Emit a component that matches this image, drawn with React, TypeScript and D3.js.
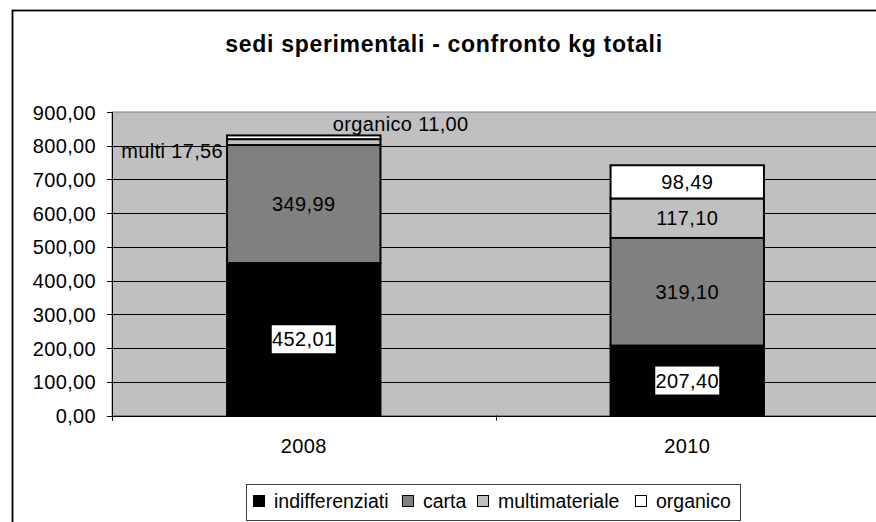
import React from "react";
import * as d3 from "d3";

const years = ["2008", "2010"];
const seriesNames = ["indifferenziati", "carta", "multimateriale", "organico"];
const indifferenziati = [452.01, 207.4];
const carta = [349.99, 319.1];
const multimateriale = [17.56, 117.1];
const organico = [11.0, 98.49];
const seriesColors = ["#000000", "#808080", "#c0c0c0", "#ffffff"];
const yTicks = [0, 100, 200, 300, 400, 500, 600, 700, 800, 900];
const title = "sedi sperimentali - confronto kg totali";

const W = 876;
const H = 522;
const FONT = "'Liberation Sans', Arial, sans-serif";
const fmt = (v: number) => v.toFixed(2).replace(".", ",");

export default function App() {
  const plotL = 112;
  const plotR = 879;
  const plotT = 112;
  const plotB = 415.5;

  const y = d3.scaleLinear().domain([0, 900]).range([plotB, plotT]);
  const x = d3.scaleBand().domain(years).range([plotL, plotR]).paddingInner(0.6).paddingOuter(0.3);

  const rows = years.map((yr, i) => ({
    year: yr,
    indifferenziati: indifferenziati[i],
    carta: carta[i],
    multimateriale: multimateriale[i],
    organico: organico[i],
  }));
  const stack = d3.stack<any>().keys(seriesNames);
  const stacked = stack(rows);

  const bw = x.bandwidth();
  const fs = 20;
  const ls = 0.35;

  const legendX = [253, 402, 477, 635];

  return (
    <svg width={W} height={H} style={{ position: "absolute", left: 0, top: 0, fontFamily: FONT }}>
      <rect x={0} y={0} width={W} height={H} fill="#fff" />
      {/* chart border */}
      <rect x={12.5} y={10.5} width={W + 10} height={H + 10} fill="none" stroke="#000" strokeWidth={1.8} />
      <text x={444} y={52} textAnchor="middle" fontSize={23} fontWeight="bold" letterSpacing={0.7} fill="#000">
        {title}
      </text>
      {/* plot area */}
      <rect x={plotL} y={plotT} width={plotR - plotL} height={plotB - plotT} fill="#c0c0c0" stroke="#808080" strokeWidth={1} />
      {yTicks.filter((t) => t > 0 && t < 900).map((t) => (
        <line key={t} x1={plotL} x2={plotR} y1={Math.round(y(t)) + 0.5} y2={Math.round(y(t)) + 0.5} stroke="#000" strokeWidth={1} />
      ))}
      {/* y axis */}
      <line x1={plotL + 0.5} x2={plotL + 0.5} y1={plotT} y2={plotB + 5} stroke="#000" />
      {yTicks.map((t) => (
        <g key={t}>
          <line x1={plotL - 5} x2={plotL} y1={Math.round(y(t)) + 0.5} y2={Math.round(y(t)) + 0.5} stroke="#000" />
          <text x={96} y={y(t) + 7.5} textAnchor="end" fontSize={fs} letterSpacing={ls} fill="#000">
            {fmt(t)}
          </text>
        </g>
      ))}
      {/* x axis */}
      <line x1={plotL} x2={plotR} y1={Math.round(plotB) + 0.5} y2={Math.round(plotB) + 0.5} stroke="#000" />
      {[0, 1, 2].map((i) => {
        const xx = plotL + (i * (plotR - plotL)) / 2;
        return <line key={i} x1={Math.round(xx) + 0.5} x2={Math.round(xx) + 0.5} y1={plotB} y2={plotB + 5} stroke="#000" />;
      })}
      {years.map((yr) => (
        <text key={yr} x={(x(yr) as number) + bw / 2} y={453} textAnchor="middle" fontSize={fs} letterSpacing={ls} fill="#000">
          {yr}
        </text>
      ))}
      {/* bars */}
      {stacked.map((s, si) =>
        s.map((d, i) => (
          <rect
            key={si + "-" + i}
            x={x(years[i]) as number}
            y={y(d[1])}
            width={bw}
            height={y(d[0]) - y(d[1])}
            fill={seriesColors[si]}
            stroke="#000"
            strokeWidth={2}
          />
        ))
      )}
      {/* labels */}
      {stacked.map((s, si) =>
        s.map((d, i) => {
          const cx = (x(years[i]) as number) + bw / 2;
          const cy = (y(d[0]) + y(d[1])) / 2;
          const v = d[1] - d[0];
          const label = fmt(v);
          if (i === 0 && si === 2) {
            return (
              <text key={"l" + si + i} x={(x(years[i]) as number) - 4} y={y(d[1]) + 19} textAnchor="end" fontSize={fs} letterSpacing={ls} fill="#000">
                {"multi " + label}
              </text>
            );
          }
          if (i === 0 && si === 3) {
            return (
              <text key={"l" + si + i} x={cx + 29} y={y(d[1]) - 4} fontSize={fs} letterSpacing={ls} fill="#000">
                {"organico " + label}
              </text>
            );
          }
          const boxed = si === 0;
          return (
            <g key={"l" + si + i}>
              {boxed && <rect x={cx - 32} y={cy - 14} width={64} height={28} fill="#fff" />}
              <text x={cx} y={cy + 7} textAnchor="middle" fontSize={fs} letterSpacing={ls} fill="#000">
                {label}
              </text>
            </g>
          );
        })
      )}
      {/* legend */}
      <rect x={246.5} y={484.5} width={494} height={36} fill="#fff" stroke="#404040" strokeWidth={1} />
      {seriesNames.map((n, i) => (
        <g key={n}>
          <rect x={legendX[i] + 0.5} y={495.5} width={11} height={11} fill={seriesColors[i]} stroke="#000" strokeWidth={1} />
          <text x={legendX[i] + 21} y={508} fontSize={fs - 0.5} fill="#000">
            {n}
          </text>
        </g>
      ))}
    </svg>
  );
}
